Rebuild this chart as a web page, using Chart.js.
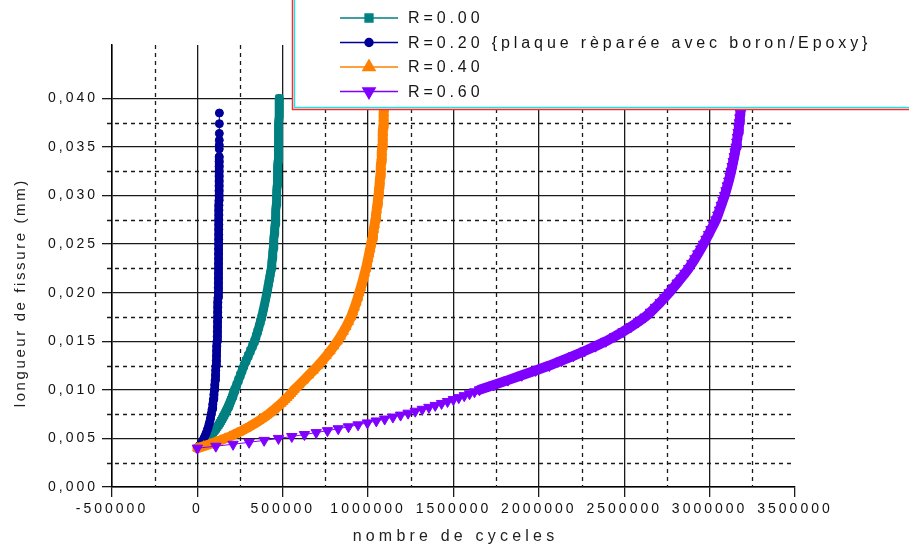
<!DOCTYPE html>
<html>
<head>
<meta charset="utf-8">
<title>longueur de fissure</title>
<script src="https://cdn.jsdelivr.net/npm/chart.js@4"></script>
<style>
	html, body { margin: 0; padding: 0; background: #fff; }
	#wrap { width: 909px; height: 546px; }
</style>
</head>
<body>
<div id="wrap"><canvas id="fissureChart" width="909" height="546"></canvas></div>
<script>
// longueur de fissure (shared by R=0.00, R=0.40, R=0.60)
const longueur = [
	0.0040, 0.0042, 0.0044, 0.0046, 0.0048, 0.0050, 0.0052, 0.0054, 0.0056, 0.0058,
	0.0060, 0.0062, 0.0064, 0.0066, 0.0068, 0.0070, 0.0072, 0.0074, 0.0076, 0.0078,
	0.0080, 0.0082, 0.0084, 0.0086, 0.0088, 0.0090, 0.0092, 0.0094, 0.0096, 0.0098,
	0.0100,
	0.0105, 0.0110, 0.0115, 0.0120, 0.0125, 0.0130, 0.0135, 0.0140, 0.0145, 0.0150,
	0.0155, 0.0160, 0.0165, 0.0170, 0.0175, 0.0180, 0.0185, 0.0190, 0.0195, 0.0200,
	0.0205, 0.0210, 0.0215, 0.0220, 0.0225, 0.0230, 0.0235, 0.0240, 0.0245, 0.0250,
	0.0255, 0.0260, 0.0265, 0.0270, 0.0275, 0.0280, 0.0285, 0.0290, 0.0295, 0.0300,
	0.0305, 0.0310, 0.0315, 0.0320, 0.0325, 0.0330, 0.0335, 0.0340, 0.0345, 0.0350,
	0.0355, 0.0360, 0.0365, 0.0370, 0.0375, 0.0380, 0.0385, 0.0390, 0.0395, 0.0400,
];

// nombre de cycles, R=0.00
const cyclesR000 = [
	0, 15700, 29600, 42000, 53000, 62900, 73200, 83000, 92200, 100900,
	109200, 117100, 124700, 131900, 138700, 145300, 151600, 157600, 163400, 169000,
	174400, 179500, 184500, 189300, 194000, 198400, 202800, 207000, 211000, 215000,
	218800,
	229900, 240800, 251600, 262300, 272900, 285700, 298200, 310600, 322800, 334800,
	344000, 352700, 361000, 369100, 376800, 383400, 389700, 395700, 401600, 407400,
	412600, 417800, 422900, 428000, 433000, 435800, 438500, 441100, 443600, 445900,
	448200, 450500, 452700, 454800, 457000, 458600, 460200, 461700, 463200, 464600,
	465900, 467100, 468200, 469300, 470400, 471300, 472200, 473000, 473900, 474700,
	475300, 475900, 476500, 477100, 477600, 478100, 478600, 479000, 479500, 480000,
];

// nombre de cycles, R=0.40
const cyclesR040 = [
	0, 37000, 72000, 104000, 134000, 163000, 190000, 215000, 239000, 262000,
	283000, 304000, 323000, 342000, 360000, 377000, 393000, 409000, 424000, 438000,
	452000, 465000, 478000, 491000, 503000, 514000, 526000, 537000, 547000, 557000,
	567000,
	596000, 624000, 652000, 680000, 707000, 732000, 756000, 779000, 800000, 821000,
	839000, 856000, 872000, 886000, 900000, 911000, 921000, 931000, 940000, 948000,
	957000, 965000, 973000, 980000, 988000, 994000, 1000000, 1006000, 1012000, 1017000,
	1023000, 1028000, 1033000, 1038000, 1042000, 1046000, 1050000, 1053000, 1057000, 1060000,
	1063000, 1066000, 1068000, 1071000, 1073000, 1075000, 1077000, 1079000, 1081000, 1083000,
	1084000, 1086000, 1087000, 1088000, 1090000, 1091000, 1092000, 1093000, 1094000, 1095000,
];

// nombre de cycles, R=0.60
const cyclesR060 = [
	0, 108000, 209000, 303000, 391000, 475000, 553000, 627000, 696000, 762000,
	825000, 885000, 941000, 996000, 1048000, 1097000, 1145000, 1190000, 1234000, 1276000,
	1317000, 1356000, 1393000, 1430000, 1465000, 1499000, 1531000, 1563000, 1594000, 1623000,
	1652000,
	1736000, 1819000, 1900000, 1981000, 2061000, 2133000, 2202000, 2268000, 2332000, 2392000,
	2445000, 2494000, 2539000, 2582000, 2622000, 2654000, 2683000, 2711000, 2737000, 2763000,
	2787000, 2810000, 2833000, 2856000, 2877000, 2896000, 2914000, 2931000, 2948000, 2964000,
	2979000, 2994000, 3008000, 3023000, 3037000, 3048000, 3058000, 3068000, 3078000, 3088000,
	3096000, 3104000, 3112000, 3119000, 3126000, 3132000, 3138000, 3144000, 3149000, 3155000,
	3159000, 3163000, 3167000, 3171000, 3174000, 3177000, 3180000, 3184000, 3187000, 3190000,
];

// R=0.20 (plaque réparée) has its own points
const longueurR020 = [
	0.0040, 0.0045, 0.0050, 0.0055, 0.0060, 0.0065, 0.0070, 0.0075, 0.0080, 0.0085,
	0.0090, 0.0095, 0.0100, 0.0105, 0.0110, 0.0115, 0.0120, 0.0125, 0.0130, 0.0135,
	0.0140, 0.0145, 0.0150, 0.0155, 0.0160, 0.0165, 0.0170, 0.0175, 0.0180, 0.0185,
	0.0190, 0.0195, 0.0200, 0.0205, 0.0210, 0.0215, 0.0220, 0.0225, 0.0230, 0.0235,
	0.0240, 0.0245, 0.0250, 0.0255, 0.0260, 0.0265, 0.0270, 0.0275, 0.0280, 0.0285,
	0.0290, 0.0295, 0.0300, 0.0305, 0.0310, 0.0315, 0.0320, 0.0325, 0.0330, 0.0335,
	0.0340, 0.0348, 0.0352, 0.0357, 0.0364, 0.0374, 0.0385,
];
const cyclesR020 = [
	0, 21600, 38000, 50700, 60800, 69000, 75800, 81500, 86300, 90400,
	93900, 97000, 99700, 102100, 104200, 106100, 107800, 109300, 110700, 111900,
	113100, 114100, 115100, 116000, 116800, 117500, 118200, 118900, 119500, 120000,
	120600, 121100, 121500, 121900, 122400, 122700, 123100, 123400, 123800, 124100,
	124400, 124600, 124900, 125200, 125400, 125600, 125800, 126000, 126200, 126400,
	126600, 126800, 127000, 127100, 127300, 127400, 127500, 127700, 127800, 127900,
	128100, 128200, 128300, 128400, 128600, 128800, 129000,
];

const seriesLabels = ['R=0.00', 'R=0.20 {plaque rèparée avec boron/Epoxy}', 'R=0.40', 'R=0.60'];

// axis ticks
const xTicks = [-500000, 0, 500000, 1000000, 1500000, 2000000, 2500000, 3000000, 3500000];
const xMinor = [-250000, 250000, 750000, 1250000, 1750000, 2250000, 2750000, 3250000];
const yTicks = [0, 0.005, 0.010, 0.015, 0.020, 0.025, 0.030, 0.035, 0.040];
const yMinor = [0.0025, 0.0075, 0.0125, 0.0175, 0.0225, 0.0275, 0.0325, 0.0375];

const fontFam = '"Liberation Sans", Arial, sans-serif';

function toPoints(xs, ys) {
	let pts = [];
	for (let i = 0; i < xs.length; i++) {
		pts.push({ x: xs[i], y: ys[i] });
	}
	return pts;
}

// the original markers are so dense they merge into a band:
// draw a wide line where that happens, a thin one elsewhere
function bandWidth(c) {
	const ds = c.chart.data.datasets[c.datasetIndex];
	const y0 = ds.data[c.p0DataIndex].y;
	const y1 = ds.data[c.p1DataIndex].y;
	if (y0 >= ds.bandFrom && y1 <= ds.bandTo) {
		return ds.bandWidth;
	}
	return 1;
}

// letter spacing for the axis texts (the original is wide)
const spacing = {
	id: 'spacing',
	beforeDraw(chart) {
		chart.ctx.letterSpacing = '3px';
	},
	afterDraw(chart) {
		chart.ctx.letterSpacing = '0px';
	},
};

// dashed minor grid
const gridMinor = {
	id: 'gridMinor',
	beforeDatasetsDraw(chart) {
		const { ctx, chartArea } = chart;
		const xs = chart.scales.x;
		const ys = chart.scales.y;
		ctx.save();
		ctx.strokeStyle = '#1a1a1a';
		ctx.lineWidth = 1.3;
		ctx.setLineDash([4, 4]);
		ctx.beginPath();
		xMinor.forEach(function (v) {
			const px = Math.round(xs.getPixelForValue(v)) + 0.5;
			ctx.moveTo(px, chartArea.top);
			ctx.lineTo(px, chartArea.bottom);
		});
		yMinor.forEach(function (v) {
			const py = Math.round(ys.getPixelForValue(v)) + 0.5;
			ctx.moveTo(chartArea.left - 5, py);
			ctx.lineTo(chartArea.right, py);
		});
		ctx.stroke();
		ctx.restore();
	},
};

// axis titles: y centred on the 0 - 0.040 range, x with wider spacing
const axisTitles = {
	id: 'axisTitles',
	afterDraw(chart) {
		const ctx = chart.ctx;
		const ys = chart.scales.y;
		const area = chart.chartArea;
		const mid = ys.getPixelForValue((yTicks[0] + yTicks[yTicks.length - 1]) / 2);
		ctx.save();
		ctx.fillStyle = '#222';
		ctx.textAlign = 'center';
		ctx.textBaseline = 'middle';
		ctx.letterSpacing = '4.2px';
		ctx.font = '16px ' + fontFam;
		ctx.fillText('nombre de cyceles', (area.left + area.right) / 2 + 2, 537);
		ctx.translate(21, mid);
		ctx.rotate(-Math.PI / 2);
		ctx.letterSpacing = '2.6px';
		ctx.font = '15px ' + fontFam;
		ctx.fillText('longueur de fissure (mm)', 0, 0);
		ctx.restore();
	},
};

// legend box, drawn over the top of the plot like the original
const legendBox = {
	id: 'legendBox',
	afterDraw(chart) {
		const ctx = chart.ctx;
		ctx.save();
		ctx.fillStyle = '#fff';
		ctx.fillRect(292, 0, 620, 109);
		ctx.lineWidth = 1.5;
		ctx.strokeStyle = '#ff2a2a';
		ctx.beginPath();
		ctx.moveTo(292.5, 0);
		ctx.lineTo(292.5, 109.5);
		ctx.lineTo(909, 109.5);
		ctx.stroke();
		ctx.strokeStyle = '#22e0e8';
		ctx.beginPath();
		ctx.moveTo(294.5, 0);
		ctx.lineTo(294.5, 107.5);
		ctx.lineTo(909, 107.5);
		ctx.stroke();

		chart.data.datasets.forEach(function (ds, i) {
			const rowY = 18 + i * 24.5;
			ctx.strokeStyle = ds.borderColor;
			ctx.lineWidth = 1.5;
			ctx.beginPath();
			ctx.moveTo(340, rowY);
			ctx.lineTo(398, rowY);
			ctx.stroke();
			ctx.fillStyle = ds.pointBackgroundColor;
			ctx.strokeStyle = ds.borderColor;
			Chart.helpers.drawPoint(ctx, {
				pointStyle: ds.pointStyle,
				rotation: ds.pointRotation || 0,
				radius: ds.legendRadius,
				borderWidth: 1,
			}, 369, rowY);
			ctx.letterSpacing = '3.9px';
			ctx.font = '16px ' + fontFam;
			ctx.fillStyle = '#151515';
			ctx.textAlign = 'left';
			ctx.textBaseline = 'middle';
			ctx.fillText(ds.label, 408, rowY + 1);
		});
		ctx.restore();
	},
};

const datasets = [
	{
		label: seriesLabels[0],
		data: toPoints(cyclesR000, longueur),
		borderColor: '#008080',
		pointBackgroundColor: '#008080',
		pointStyle: 'rect',
		pointRadius: 5,
		legendRadius: 5.5,
		bandFrom: 0, bandTo: 1, bandWidth: 9,
		order: 3,
	},
	{
		label: seriesLabels[1],
		data: toPoints(cyclesR020, longueurR020),
		borderColor: '#000099',
		pointBackgroundColor: '#000099',
		pointStyle: 'circle',
		pointRadius: 4,
		legendRadius: 4,
		bandFrom: 0, bandTo: 0.0341, bandWidth: 8.5,
		order: 2,
	},
	{
		label: seriesLabels[2],
		data: toPoints(cyclesR040, longueur),
		borderColor: '#ff8000',
		pointBackgroundColor: '#ff8000',
		pointStyle: 'triangle',
		pointRadius: 5.5,
		legendRadius: 7,
		bandFrom: 0, bandTo: 1, bandWidth: 10,
		order: 1,
	},
	{
		label: seriesLabels[3],
		data: toPoints(cyclesR060, longueur),
		borderColor: '#8000ff',
		pointBackgroundColor: '#8000ff',
		pointStyle: 'triangle',
		pointRotation: 180,
		pointRadius: 6,
		legendRadius: 7,
		bandFrom: 0.0099, bandTo: 1, bandWidth: 10,
		order: 0,
	},
];
datasets.forEach(function (ds) {
	ds.showLine = true;
	ds.backgroundColor = ds.borderColor;
	ds.borderWidth = 1;
	ds.borderJoinStyle = 'round';
	ds.borderCapStyle = 'round';
	ds.segment = { borderWidth: bandWidth };
	ds.pointBorderWidth = 1;
	ds.pointBorderColor = ds.borderColor;
});

const ctx = document.getElementById('fissureChart').getContext('2d');

const fissureChart = new Chart(ctx, {
	type: 'scatter',
	data: { datasets: datasets },
	plugins: [spacing, gridMinor, axisTitles, legendBox],
	options: {
		responsive: false,
		animation: false,
		devicePixelRatio: 1,
		layout: { padding: { top: 45, right: 114, left: 0, bottom: 0 } },
		plugins: {
			legend: { display: false },
			tooltip: { enabled: false },
		},
		scales: {
			x: {
				type: 'linear',
				min: xTicks[0],
				max: xTicks[xTicks.length - 1],
				afterBuildTicks: function (scale) {
					scale.ticks = xTicks.map(function (v) { return { value: v }; });
				},
				afterFit: function (scale) {
					scale.height = 59;
				},
				ticks: {
					autoSkip: false,
					maxRotation: 0,
					padding: 4,
					color: '#111',
					font: { size: 14, family: fontFam },
					callback: function (value) { return String(value); },
				},
				grid: {
					color: function (c) {
						return c.tick && c.tick.value === xTicks[xTicks.length - 1] ? 'rgba(0,0,0,0)' : '#1a1a1a';
					},
					lineWidth: 1.3,
					tickLength: 10,
					tickColor: '#1a1a1a',
					tickWidth: 1.3,
				},
				border: { color: '#000', width: 1.5 },
			},
			y: {
				type: 'linear',
				min: 0,
				max: 0.0455,
				afterBuildTicks: function (scale) {
					scale.ticks = yTicks.map(function (v) { return { value: v }; });
				},
				afterFit: function (scale) {
					scale.width = 112;
				},
				ticks: {
					padding: 4,
					color: '#111',
					font: { size: 14, family: fontFam },
					callback: function (value) { return value.toFixed(3).replace('.', ','); },
				},
				grid: {
					color: '#1a1a1a',
					lineWidth: 1.3,
					tickLength: 10,
					tickColor: '#1a1a1a',
					tickWidth: 1.3,
				},
				border: { color: '#000', width: 1.5 },
			},
		},
	},
});
</script>
</body>
</html>
